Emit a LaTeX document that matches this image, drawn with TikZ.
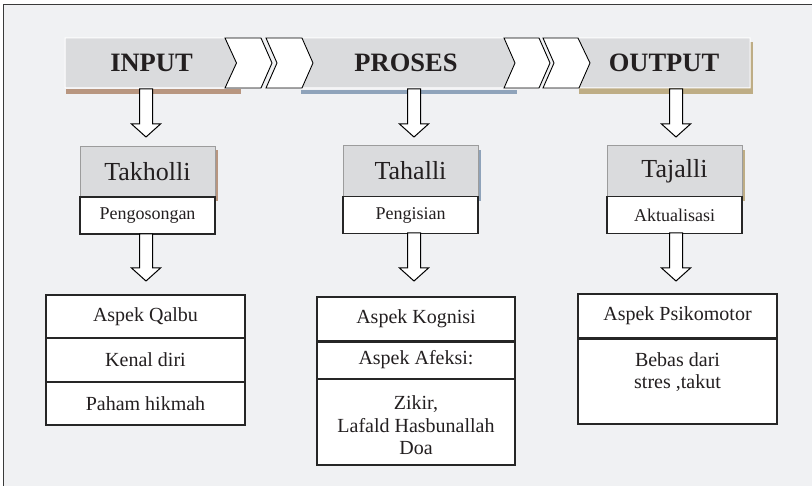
\documentclass[tikz,border=0pt]{standalone}
\usepackage{fontspec}
\setmainfont{Liberation Serif}
\usetikzlibrary{calc}
\definecolor{bgc}{HTML}{F0F1F3}
\definecolor{bannergray}{HTML}{DADBDD}
\definecolor{brownsh}{HTML}{B89680}
\definecolor{bluesh}{HTML}{8FA3BA}
\definecolor{tansh}{HTML}{BEAD85}
\definecolor{txt}{HTML}{231F20}
\definecolor{grayborder}{HTML}{9C9C9C}
\definecolor{frameline}{HTML}{3A3A3A}
\tikzset{
  chev/.style={fill=white,draw=black,line width=0.9pt,line join=miter},
  graybanner/.style={fill=bannergray,draw=white,line width=1pt},
  bantext/.style={font=\fontsize{26.5}{30}\selectfont\bfseries,text=txt},
  headbox/.style={rectangle,fill=bannergray,draw=grayborder,line width=0.9pt,minimum width=135pt,minimum height=51pt,inner sep=0pt,font=\fontsize{26}{30}\selectfont,text=txt},
  subbox/.style={rectangle,fill=white,draw=black!85,line width=1.2pt,minimum width=135pt,minimum height=37pt,inner sep=0pt,font=\fontsize{18}{21}\selectfont,text=txt},
  listbox/.style={rectangle,fill=white,draw=black!85,line width=1.2pt,minimum width=199pt,inner sep=0pt,font=\fontsize{20}{22.5}\selectfont,text=txt,align=center},
  listtext/.style={inner sep=0pt,font=\fontsize{20}{22.5}\selectfont,text=txt,align=center},
  blk/.style={fill=white,draw=black,line width=1pt,line join=miter}
}
\newcommand{\blkarrow}[2]{\draw[blk] let \p1=(#1), \p2=(#2) in
  (\x1-6.5pt,\y1) -- (\x1+6.5pt,\y1) -- (\x1+6.5pt,\y2+13pt) -- (\x1+14.5pt,\y2+13pt)
  -- (\x1,\y2) -- (\x1-14.5pt,\y2+13pt) -- (\x1-6.5pt,\y2+13pt) -- cycle;}
\begin{document}
\begin{tikzpicture}[x=1pt,y=-1pt]
\useasboundingbox (0,0) rectangle (812,486);
\fill[white] (0,0) rectangle (812,486);
\fill[bgc] (3.5,4.5) rectangle (812,486);
\draw[frameline,line width=1.5pt] (3.5,486) -- (3.5,4.5) -- (812,4.5);

% banner shadows / underlines
\fill[brownsh] (66,89) rectangle (240.5,94);
\fill[bluesh] (300.5,90) rectangle (517,94.5);
\fill[tansh] (579,88) rectangle (753,94);
\fill[tansh] (749,42) rectangle (753,94);

% banner gray shapes
\draw[graybanner] (65,38) -- (226,38) -- (237,63) -- (225,88) -- (65,88) -- cycle;
\draw[graybanner] (302,38) -- (504,38) -- (515,63) -- (504,88) -- (302,88) -- (313,63) -- cycle;
\draw[graybanner] (578,38) -- (750,38) -- (750,88) -- (579,88) -- (590,63) -- cycle;

% chevrons
\draw[chev] (225,38) -- (261,38) -- (272,63) -- (261,88) -- (225,88) -- (236.5,63) -- cycle;
\draw[chev] (266,38) -- (302,38) -- (313,63) -- (302,88) -- (266,88) -- (277,63) -- cycle;
\draw[chev] (504,38) -- (539,38) -- (550,63) -- (539,88) -- (504,88) -- (515,63) -- cycle;
\draw[chev] (543,38) -- (578,38) -- (590,63) -- (579,88) -- (543,88) -- (554,63) -- cycle;

% banner texts
\node[bantext] (input) at (151.5,63) {INPUT};
\node[bantext] (proses) at (406,63) {PROSES};
\node[bantext] (output) at (664,63) {OUTPUT};

% head boxes with shadows
\fill[brownsh] (214,150) rectangle (217.5,201);
\fill[bluesh] (477,150) rectangle (480.5,201);
\fill[tansh] (741,150) rectangle (744.5,201);
\node[headbox] (takholli) at (147.5,171.5) {Takholli};
\node[headbox] (tahalli) at (410.5,171) {Tahalli};
\node[headbox] (tajalli) at (674.5,171) {Tajalli};
\node[subbox] (peng1) at (147.5,215.5) {Pengosongan};
\node[subbox] (peng2) at (410.5,215) {Pengisian};
\node[subbox] (peng3) at (674.5,215) {Aktualisasi};

% arrow anchor coordinates
\coordinate (a1s) at (146,89);   \coordinate (a1e) at (146,137);
\coordinate (a2s) at (414,89);   \coordinate (a2e) at (414,137);
\coordinate (a3s) at (676,89);   \coordinate (a3e) at (676,137);
\coordinate (b1s) at (146,234);  \coordinate (b1e) at (146,281);
\coordinate (b2s) at (414,233);  \coordinate (b2e) at (414,281);
\coordinate (b3s) at (676,233);  \coordinate (b3e) at (676,281);
\blkarrow{a1s}{a1e}
\blkarrow{a2s}{a2e}
\blkarrow{a3s}{a3e}
\blkarrow{b1s}{b1e}
\blkarrow{b2s}{b2e}
\blkarrow{b3s}{b3e}

% left list
\node[listbox,minimum height=43pt] (q1) at (145.5,316.5) {Aspek Qalbu};
\node[listbox,minimum height=44pt] (q2) at (145.5,360) {Kenal diri};
\node[listbox,minimum height=43pt] (q3) at (145.5,403.5) {Paham hikmah};

% middle list
\node[listbox,minimum width=198pt,minimum height=44pt] (m1) at (416,319) {Aspek Kognisi};
\node[listbox,minimum width=198pt,minimum height=38pt] (m2) at (416,360) {Aspek Afeksi:};
\node[listbox,minimum width=198pt,minimum height=86pt] (m3) at (416,422) {};
\node[listtext] (m3t) at (416,425.5) {Zikir,\\Lafald Hasbunallah\\Doa};
\draw[black!85,line width=2pt] (m1.south west) -- (m1.south east);

% right list
\node[listbox,minimum height=44pt] (r1) at (677.5,316) {Aspek Psikomotor};
\node[listbox,minimum height=86pt] (r2) at (677.5,381) {};
\node[listtext] (r2t) at (677.5,372) {Bebas dari\\stres ,takut};
\draw[black!85,line width=2pt] (r1.south west) -- (r1.south east);
\end{tikzpicture}
\end{document}
